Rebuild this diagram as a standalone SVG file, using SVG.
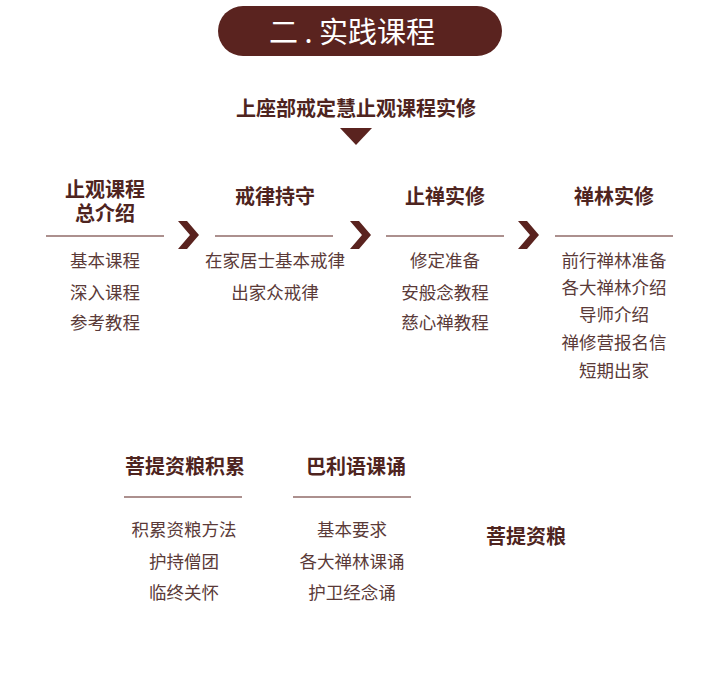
<svg xmlns="http://www.w3.org/2000/svg" width="720" height="679" viewBox="0 0 720 679">
<style>
text{font-family:"Noto Sans CJK SC","Noto Sans",sans-serif;text-anchor:middle;dominant-baseline:central}
.h{font-size:20px;font-weight:bold;fill:#4e2420}
.i{font-size:17.5px;fill:#5a3a38}
.ln{stroke:#5a231f;stroke-width:1.2}
.chev{fill:#5a231f}
</style>
<rect width="720" height="679" fill="#ffffff"/>
<g id="banner">
<rect x="218" y="6" width="284" height="50" rx="25" fill="#5a231f"/>
<text x="352" y="30" font-size="29" fill="#ffffff" xml:space="preserve">二 . 实践课程</text>
</g>
<g id="title">
<text x="356" y="107" class="h" font-size="21.5">上座部戒定慧止观课程实修</text>
<polygon points="340,128 372,128 356,145" fill="#5a231f"/>
</g>
<g id="n1">
<text class="h"><tspan x="105" y="188">止观课程</tspan><tspan x="105" y="212">总介绍</tspan></text>
<line x1="46" y1="236" x2="164" y2="236" class="ln"/>
<text x="105" y="259" class="i">基本课程</text>
<text x="105" y="291" class="i">深入课程</text>
<text x="105" y="321" class="i">参考教程</text>
</g>
<g id="n2">
<text x="275" y="195" class="h">戒律持守</text>
<line x1="215" y1="236" x2="333" y2="236" class="ln"/>
<text x="275" y="259" class="i">在家居士基本戒律</text>
<text x="275" y="291" class="i">出家众戒律</text>
</g>
<g id="n3">
<text x="445" y="195" class="h">止禅实修</text>
<line x1="386" y1="236" x2="504" y2="236" class="ln"/>
<text x="445" y="259" class="i">修定准备</text>
<text x="445" y="291" class="i">安般念教程</text>
<text x="445" y="321" class="i">慈心禅教程</text>
</g>
<g id="n4">
<text x="614" y="195" class="h">禅林实修</text>
<line x1="555" y1="236" x2="673" y2="236" class="ln"/>
<text x="614" y="259" class="i">前行禅林准备</text>
<text x="614" y="286" class="i">各大禅林介绍</text>
<text x="614" y="313" class="i">导师介绍</text>
<text x="614" y="341" class="i">禅修营报名信</text>
<text x="614" y="369" class="i">短期出家</text>
</g>
<g id="connectors">
<polygon class="chev" points="178,221 187,221 199,235 187,249 178,249 190,235"/>
<polygon class="chev" points="350,221 359,221 371,235 359,249 350,249 362,235"/>
<polygon class="chev" points="518,221 527,221 539,235 527,249 518,249 530,235"/>
</g>
<g id="n5">
<text x="185" y="465" class="h">菩提资粮积累</text>
<line x1="124" y1="497" x2="242" y2="497" class="ln"/>
<text x="184" y="528" class="i">积累资粮方法</text>
<text x="184" y="560" class="i">护持僧团</text>
<text x="184" y="591" class="i">临终关怀</text>
</g>
<g id="n6">
<text x="356" y="465" class="h">巴利语课诵</text>
<line x1="293" y1="497" x2="411" y2="497" class="ln"/>
<text x="352" y="528" class="i">基本要求</text>
<text x="352" y="560" class="i">各大禅林课诵</text>
<text x="352" y="591" class="i">护卫经念诵</text>
</g>
<g id="n7">
<text x="526" y="535" class="h">菩提资粮</text>
</g>
</svg>
